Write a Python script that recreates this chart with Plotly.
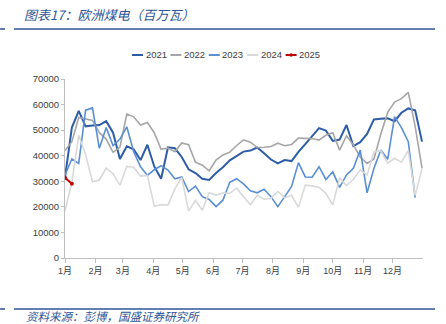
import plotly.graph_objects as go

# weekly positions as day-of-year
weeks = [7 * k for k in range(53)]

s2021 = [31500, 51000, 57500, 51500, 51800, 52000, 53500, 49000, 38700, 43700,
         42500, 38300, 44300, 35800, 31000, 43300, 42900, 39500, 34700, 33200,
         31000, 30500, 33200, 35500, 38200, 40000, 41600, 42000, 43200, 41000,
         38500, 37000, 38300, 37900, 41500, 44500, 47500, 50800, 49800, 45800,
         46300, 52000, 43800, 45300, 48500, 54200, 54500, 54600, 53500, 56800,
         58500, 57800, 45500]

s2022 = [42000, 45500, 55000, 54300, 53800, 49000, 46500, 41300, 43400, 56300,
         55200, 52000, 53000, 49000, 42500, 43000, 41600, 45000, 44300, 37500,
         36300, 34100, 38300, 40300, 41400, 44000, 46200, 45300, 43200, 43300,
         43600, 44900, 43900, 44400, 46900, 46800, 46700, 46100, 48000, 49000,
         42200, 47800, 44200, 39500, 37000, 38700, 48500, 57000, 61000, 62300,
         64800, 51500, 35100]

s2023 = [32500, 38700, 37000, 57800, 58700, 42900, 51000, 44000, 46500, 51300,
         41600, 35700, 32300, 34500, 36100, 34400, 31000, 31700, 26000, 28100,
         24000, 22900, 20100, 22600, 29600, 31000, 29000, 26300, 25500, 26900,
         24000, 20100, 24000, 28000, 37300, 31700, 31600, 35700, 30700, 33700,
         27600, 32500, 35100, 42200, 25500, 35100, 42200, 38600, 55300, 51000,
         45500, 23600]

s2024 = [18500, 29500, 48000, 40500, 29800, 30500, 35100, 33000, 28500, 35800,
         35500, 32000, 32300, 20300, 20800, 20700, 27000, 31500, 18300, 22600,
         18700, 25500, 24600, 25400, 25300, 27300, 24000, 20800, 24500, 23000,
         23300, 26000, 23500, 24500, 19800, 28500, 28200, 27600, 25300, 20700,
         31300, 28300, 30700, 34500, 32500, 41500, 42000, 37000, 39000, 37500,
         42000, 24500, 35000]

s2025 = [31400, 29000]

series_names = ["2021", "2022", "2023", "2024", "2025"]
series_vals = [s2021, s2022, s2023, s2024, s2025]
series_colors = ["#2E5DA8", "#A6A6A6", "#5B8FD3", "#D9D9D9", "#C00000"]
series_widths = [2, 1.6, 1.6, 1.6, 2]

month_days = [0, 31, 59, 90, 120, 151, 181, 212, 243, 273, 304, 334]
month_labels = [f"{i}月" for i in range(1, 13)]
y_ticks = [0, 10000, 20000, 30000, 40000, 50000, 60000, 70000]

fig = go.Figure()
for name, vals, col, w in zip(series_names, series_vals, series_colors, series_widths):
    fig.add_trace(go.Scatter(
        x=weeks[:len(vals)], y=vals, name=name,
        mode="lines+markers" if name == "2025" else "lines",
        line=dict(color=col, width=w),
        marker=dict(size=4, color=col),
        showlegend=False,
    ))

# plot area in pixels: x 65..423, y 79..258
L, R, T, B = 65, 423, 79, 258
def px(xp):
    return (xp - L) / (R - L)
def py(yp):
    return (B - yp) / (B - T)

shapes = []
annotations = []
BLUE = "#2F5597"

# header / footer rules
for yy in (29, 309):
    shapes.append(dict(type="line", xref="paper", yref="paper",
                       x0=px(14), x1=px(435), y0=py(yy), y1=py(yy),
                       line=dict(color=BLUE, width=1.5)))
    shapes.append(dict(type="line", xref="paper", yref="paper",
                       x0=px(0), x1=px(5), y0=py(yy), y1=py(yy),
                       line=dict(color=BLUE, width=1.5)))

annotations.append(dict(xref="paper", yref="paper", x=px(22), y=py(15),
                        xanchor="left", yanchor="middle", showarrow=False,
                        text="<i>图表17：欧洲煤电（百万瓦）</i>",
                        font=dict(family="Noto Sans CJK SC", size=13, color=BLUE)))
annotations.append(dict(xref="paper", yref="paper", x=px(24), y=py(316),
                        xanchor="left", yanchor="middle", showarrow=False,
                        text="<i>资料来源：彭博，国盛证券研究所</i>",
                        font=dict(family="Noto Sans CJK SC", size=11.5, color=BLUE)))

# legend drawn manually
leg_x0 = 132
pitch = 38.4
for i, (name, col) in enumerate(zip(series_names, series_colors)):
    x0 = leg_x0 + i * pitch
    shapes.append(dict(type="line", xref="paper", yref="paper",
                       x0=px(x0), x1=px(x0 + 11), y0=py(55), y1=py(55),
                       line=dict(color=col, width=2)))
    if name == "2025":
        shapes.append(dict(type="circle", xref="paper", yref="paper",
                           x0=px(x0 + 3.8), x1=px(x0 + 7.2), y0=py(53.3), y1=py(56.7),
                           fillcolor=col, line=dict(color=col, width=0)))
    annotations.append(dict(xref="paper", yref="paper", x=px(x0 + 11.5), y=py(55),
                            xanchor="left", yanchor="middle", showarrow=False,
                            text=name,
                            font=dict(family="Liberation Sans, Arial", size=9.5, color="#404040")))

fig.update_layout(
    width=446, height=324,
    margin=dict(l=L, r=446 - R, t=T, b=324 - B, pad=0),
    paper_bgcolor="white", plot_bgcolor="white",
    shapes=shapes, annotations=annotations,
    showlegend=False,
    font=dict(family="Liberation Sans, Noto Sans CJK SC", size=9.5, color="#404040"),
    xaxis=dict(range=[0, 365], tickmode="array", tickvals=month_days, ticktext=month_labels,
               showgrid=False, zeroline=False, showline=True, linecolor="#BFBFBF", linewidth=1,
               ticks="outside", ticklen=4, tickcolor="#BFBFBF",
               tickfont=dict(family="Liberation Sans, Noto Sans CJK SC", size=9, color="#404040")),
    yaxis=dict(range=[0, 70000], tickmode="array", tickvals=y_ticks,
               ticktext=[str(v) for v in y_ticks],
               showgrid=False, zeroline=False, showline=True, linecolor="#BFBFBF", linewidth=1,
               ticks="outside", ticklen=3, tickcolor="#BFBFBF",
               tickfont=dict(family="Liberation Sans, Arial", size=9.5, color="#404040")),
)

fig.write_html("out.html")
